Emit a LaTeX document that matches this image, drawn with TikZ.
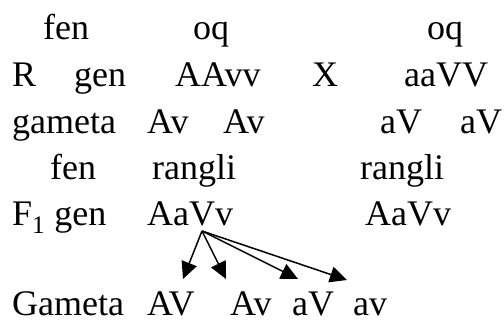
\documentclass[tikz,border=0pt]{standalone}
\usepackage{fontspec}
\setmainfont{Liberation Serif}
\usetikzlibrary{arrows.meta}

\tikzset{
    word/.style={anchor=base west, inner sep=0pt, font=\fontsize{36}{40}\selectfont},
    gamarrow/.style={-{Triangle[length=17pt, width=16pt]}, line width=1.5pt}
}

\begin{document}
\begin{tikzpicture}[x=1pt, y=-1pt]
    \useasboundingbox (0, 0) rectangle (504, 321);

    % Parents: phenotype row
    \node[word] (fenP) at (43, 40) {fen};
    \node[word] (oqA) at (193, 40) {oq};
    \node[word] (oqB) at (427, 40) {oq};

    % Parents: genotype row
    \node[word] (rR) at (12, 87) {R};
    \node[word] (genP) at (74, 87) {gen};
    \node[word] (ppA) at (175, 87) {AAvv};
    \node[word] (cross) at (312, 87) {X};
    \node[word] (ppB) at (404, 87) {aaVV};

    % Parents: gametes
    \node[word] (gamP) at (12, 133) {gameta};
    \node[word] (gA1) at (147, 133) {Av};
    \node[word] (gA2) at (223, 133) {Av};
    \node[word] (gB1) at (380, 133) {aV};
    \node[word] (gB2) at (460, 133) {aV};

    % F1: phenotype row
    \node[word] (fenF) at (50, 179) {fen};
    \node[word] (rangA) at (152, 179) {rangli};
    \node[word] (rangB) at (360, 179) {rangli};

    % F1: genotype row
    \node[word] (genF) at (12, 225) {F\textsubscript{1} gen};
    \node[word] (fA) at (147, 225) {AaVv};
    \node[word] (fB) at (365, 225) {AaVv};

    % F1 gametes
    \node[word] (gamF) at (12, 315) {Gameta};
    \node[word] (gAV) at (147, 315) {AV};
    \node[word] (gAv) at (230, 315) {Av};
    \node[word] (gaV) at (292, 315) {aV};
    \node[word] (gav) at (353, 315) {av};

    % Arrow start and end points
    \coordinate (split) at (202, 231);
    \coordinate (tAV) at (183, 279);
    \coordinate (tAv) at (226, 279);
    \coordinate (taV) at (298, 279);
    \coordinate (tav) at (347, 280);

    % Arrows to the four gametes
    \foreach \t in {tAV, tAv, taV, tav}
        \draw[gamarrow] (split) -- (\t);
\end{tikzpicture}
\end{document}
